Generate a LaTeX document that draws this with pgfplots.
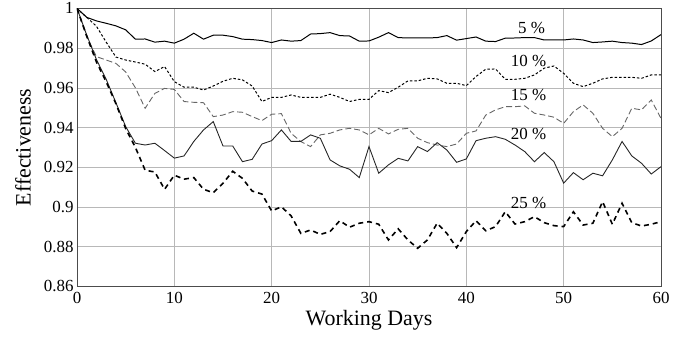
\documentclass[border=0pt]{standalone}
\usepackage{fontspec}
\setmainfont{Liberation Serif}
\usepackage{pgfplots}
\usepackage{pgfplotstable}
\pgfplotsset{compat=1.18}
\pgfplotstableread{
d s5 s10 s15 s20 s25
0 1.0 1.0 1.0 1.0 1.0
1 0.9955 0.9955 0.9858 0.9866 0.9860
2 0.9937 0.9910 0.9757 0.9742 0.9730
3 0.9925 0.9830 0.9740 0.9643 0.9630
4 0.9912 0.9755 0.9723 0.9525 0.9520
5 0.9892 0.9740 0.9680 0.9405 0.9395
6 0.9845 0.9730 0.9600 0.9321 0.9300
7 0.9846 0.9719 0.9497 0.9312 0.9185
8 0.9830 0.9682 0.9572 0.9321 0.9176
9 0.9835 0.9707 0.9597 0.9284 0.9089
10 0.9825 0.9631 0.9592 0.9246 0.9160
11 0.9845 0.9603 0.9531 0.9257 0.9140
12 0.9875 0.9603 0.9527 0.9330 0.9148
13 0.9845 0.9589 0.9525 0.9388 0.9089
14 0.9865 0.9609 0.9455 0.9430 0.9072
15 0.9865 0.9633 0.9463 0.9307 0.9119
16 0.9858 0.9648 0.9480 0.9307 0.9180
17 0.9845 0.9640 0.9477 0.9228 0.9144
18 0.9843 0.9609 0.9455 0.9240 0.9080
19 0.9838 0.9531 0.9435 0.9317 0.9065
20 0.9828 0.9552 0.9467 0.9334 0.8980
21 0.9841 0.9552 0.9470 0.9388 0.9001
22 0.9835 0.9564 0.9371 0.9330 0.8955
23 0.9838 0.9552 0.9329 0.9330 0.8867
24 0.9871 0.9552 0.9304 0.9363 0.8884
25 0.9873 0.9552 0.9363 0.9346 0.8862
26 0.9878 0.9568 0.9371 0.9237 0.8876
27 0.9863 0.9552 0.9388 0.9207 0.8931
28 0.9861 0.9531 0.9396 0.9190 0.8898
29 0.9835 0.9542 0.9388 0.9148 0.8918
30 0.9836 0.9542 0.9363 0.9304 0.8926
31 0.9855 0.9586 0.9396 0.9170 0.8913
32 0.9878 0.9576 0.9368 0.9212 0.8834
33 0.9853 0.9603 0.9391 0.9245 0.8890
34 0.9851 0.9635 0.9396 0.9232 0.8834
35 0.9851 0.9635 0.9346 0.9304 0.8792
36 0.9851 0.9648 0.9324 0.9279 0.8834
37 0.9853 0.9645 0.9312 0.9324 0.8918
38 0.9863 0.9623 0.9304 0.9287 0.8867
39 0.9840 0.9623 0.9317 0.9225 0.8795
40 0.9848 0.9611 0.9371 0.9242 0.8876
41 0.9856 0.9657 0.9383 0.9334 0.8931
42 0.9835 0.9694 0.9463 0.9346 0.8880
43 0.9833 0.9695 0.9489 0.9354 0.8901
44 0.9850 0.9643 0.9505 0.9341 0.8976
45 0.9851 0.9643 0.9505 0.9312 0.8914
46 0.9853 0.9648 0.9509 0.9279 0.8926
47 0.9853 0.9665 0.9472 0.9228 0.8951
48 0.9841 0.9699 0.9463 0.9274 0.8921
49 0.9841 0.9710 0.9452 0.9228 0.8906
50 0.9841 0.9673 0.9421 0.9120 0.8901
51 0.9846 0.9623 0.9480 0.9173 0.8976
52 0.9841 0.9606 0.9514 0.9137 0.8909
53 0.9828 0.9623 0.9472 0.9170 0.8918
54 0.9831 0.9645 0.9396 0.9157 0.9027
55 0.9835 0.9653 0.9354 0.9237 0.8913
56 0.9828 0.9653 0.9396 0.9330 0.9019
57 0.9825 0.9653 0.9497 0.9257 0.8921
58 0.9818 0.9648 0.9489 0.9220 0.8904
59 0.9836 0.9665 0.9539 0.9166 0.8913
60 0.9868 0.9665 0.9446 0.9203 0.8926
}\datatable
\begin{document}
\begin{tikzpicture}
\useasboundingbox (-77bp,-54.6bp) rectangle (617bp,286.4bp);
\begin{axis}[
  at={(0,0)}, anchor=south west,
  scale only axis, width=584bp, height=278bp,
  xmin=0, xmax=60, ymin=0.86, ymax=1,
  xtick={0,10,...,60},
  ytick={0.86,0.88,0.9,0.92,0.94,0.96,0.98,1},
  yticklabels={0.86,0.88,0.9,0.92,0.94,0.96,0.98,1},
  grid=major,
  major grid style={color=black!28, line width=0.6pt},
  axis line style={color=black!70, line width=0.7pt},
  tick style={draw=none},
  /pgf/number format/assume math mode=true,
  ticklabel style={font=\fontsize{17}{19}\selectfont},
  xticklabel style={yshift=-2pt},
  xlabel={Working Days},
  ylabel={Effectiveness},
  label style={font=\fontsize{22}{25}\selectfont},
  xlabel style={at={(axis description cs:0.5,-0.121)}, anchor=center},
  ylabel style={at={(axis description cs:-0.0925,0.5)}, anchor=center},
]
\addplot[black, line width=1pt] table[x=d,y=s5] {\datatable};
\addplot[black, line width=1pt, dash pattern=on 2.5pt off 2pt] table[x=d,y=s10] {\datatable};
\addplot[black!60, line width=0.9pt, dash pattern=on 6pt off 3pt] table[x=d,y=s15] {\datatable};
\addplot[black!85, line width=0.9pt] table[x=d,y=s20] {\datatable};
\addplot[black, line width=1.6pt, dash pattern=on 5pt off 4pt] table[x=d,y=s25] {\datatable};
\node[font=\fontsize{17}{20}\selectfont] at (axis cs:46.7,0.9902) {5 \%};
\node[font=\fontsize{17}{20}\selectfont] at (axis cs:46.4,0.9736) {10 \%};
\node[font=\fontsize{17}{20}\selectfont] at (axis cs:46.4,0.9564) {15 \%};
\node[font=\fontsize{17}{20}\selectfont] at (axis cs:46.4,0.9368) {20 \%};
\node[font=\fontsize{17}{20}\selectfont] at (axis cs:46.4,0.9020) {25 \%};
\end{axis}
\end{tikzpicture}
\end{document}
